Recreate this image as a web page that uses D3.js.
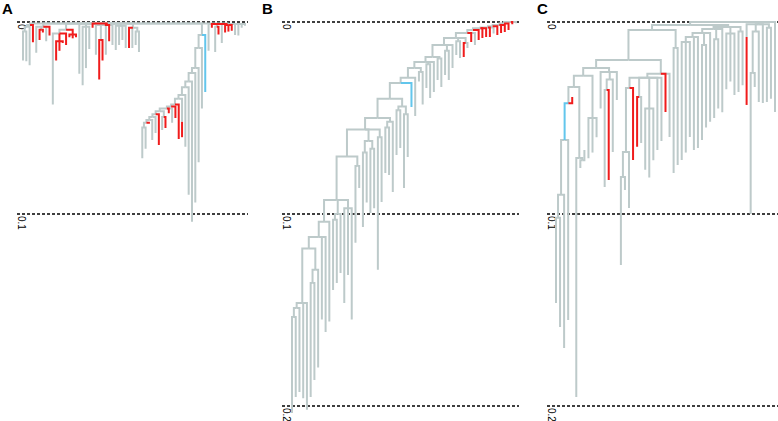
<!DOCTYPE html>
<html><head><meta charset="utf-8">
<script src="https://cdn.jsdelivr.net/npm/d3@7"></script>
<style>body{margin:0;background:#fff}svg{display:block}</style>
</head><body>
<svg id="chart" width="778" height="421"></svg>
<script>
// ---------- DATA ----------
// Trees: Newick-like, each node "(children)tag:depth" with depth = distance from root in units of 0.001;
// tag r = red branch, b = blue branch, none = grey branch.
const panelLetters = ["A", "B", "C"];
const tickValues = [[0, 0.1], [0, 0.1, 0.2], [0, 0.1, 0.2]];
const tickLabels = [["0", "0.1"], ["0", "0.1", "0.2"], ["0", "0.1", "0.2"]];

const treeA = `(
 (((:20,:20.5):5,:22.5):2.5,r:10.5):1.5,
 (:16,(r:9.4,r:5.5):4,:10,r:7):2.5,
 ((:43,(r:20,r:15,r:11)r:10,r:12):6,(r:8,r:8.5,r:8)r:6.5):4,
 :27,
 (:33,:24,:14):2.5,
 r:3,
 (:17,(r:30,r:20):9.4,:17,r:10,:12):1.5,
 (:14.6,:12,:9.4,:13.5):2,
 (r:13.5,:13.5,(:12,:15.6):5):3,
 (((((((((((((((((:71,:66):55,r:53):52.5
   ,:61.5):51,:57.8):49.5,r:64):48,(:56.3,r:55.2):49.5):46.5
   ,r:47.5,:52.5):45,r:50):44,r:61):43,(r:60):52):40
   ,:65):38,:90):34,:104):31,:94):26.5,:73):24,:45):13.5,b:36.5):6.8,
 (:15,r:3,(:15.6,r:6.5):2.5,:11,(r:5.5,r:5,r:4.5):1.5,:6.8,:7,:3,:2):1
):0.8`;

const treeB = `((((((((((((((((((((((((((:203.6,:195.3):153.6
 ,:192.7):149
 ,:196,:202):146.4
 ,((:195.3,:186.5):136,:180):129):118
 ,:155,:161.5):112
 ,:156):104
 ,((:139.6,:136):103,:130.7):100,(:146.4,:131.8,:155):97):92.7
 ,(:115,:86.5):75):70
 ,((:106.8,:94):68,(:99.5,:97):66):62,(:129,:93.8):60):56
 ,((:78.6,:79.7):55,:88.5):52):50
 ,((:69.3,:65.6):46,(:86.5,:70.3):48):44):40
 ,b:44.3):31.8
 ,:49):29
 ,(:31,:43):26):24
 ,(:34.4,:39.6):22,:36.5):20.8
 ,(:30.2,:33.9):19):18.2
 ,(:27.6,:30.2):15,:24):12
 ,(:17.2,:18.8):10,(r:18.2,:13.5):11):8.3
 ,r:10.4,:12):5.7
 ,r:9.4):4.2
 ,r:8.3,r:7.8):3.2
 ,r:7.8,:6):2.8
 ,r:6.8):2.2
 ,r:5.7,r:5.2):1.5
 ,r:4.2):0.8
 ,r:1.2,:0.6):0`;

const treeC = `(
 (
  (
   (
    (
     ((((((:146.4,:158.9):102,:169.8):90,:155.2)b:61.5,r:39.1):42.3,(:195.3,(:76,:66.7):72):70.8):33.9,(:71,:68,:60):50):28,
     (:45,((:86,r:82.3):35.4,:67.7):30,:40.6):26
    ):24,
    (((((:126.6,:87.5):80.7,:96.9):67.7,r:71.9):34.4,(r:65,:63):39,(:77,:81,:72):45,:66.7,:62):29,r:46.9,:59.9):27
   ):19.8,
   (:78.6,:74.5):13.5
  ):4.2,
  (((((:71.9,:68,:59.9):10.4,:66.7,:65.6):7.8,(:61.5,:55):12,:52):5.7,(:50,:45):9,:47):3.6,(:35,:31,:38):6,(:36.5,:33):5):2.6
 ):1.5,
 ((r:43.2):7.8,((:100,:33.9):26.6,:41.7):5,:42.2,(:41.7,:40):3):1.2,
 :46.9
):0`;

const trees = [treeA, treeB, treeC];

// ---------- LAYOUT ----------
const colors = { g: "#bdcaca", r: "#f01c1c", b: "#62c6ec" };
const plotX = [[17, 248], [282, 519], [547, 778]];
const leafX = [[23, 245], [292, 516], [556, 775]];
const letterX = [2, 262, 537];

function parseTree(str) {
  const s = str.replace(/\s+/g, "");
  let i = 0;
  function node() {
    const n = {};
    if (s[i] === "(") {
      i++;
      n.children = [node()];
      while (s[i] === ",") { i++; n.children.push(node()); }
      if (s[i] !== ")") throw new Error("expected ) at " + i + " got " + s[i]);
      i++;
    }
    let tag = "";
    while (i < s.length && /[a-z]/.test(s[i])) tag += s[i++];
    if (s[i] !== ":") throw new Error("expected : at " + i + " got " + s[i]);
    i++;
    let num = "";
    while (i < s.length && /[0-9.\-]/.test(s[i])) num += s[i++];
    n.depth = +num / 1000;
    n.tag = tag || "g";
    return n;
  }
  const r = node();
  if (i !== s.length) throw new Error("trailing at " + i);
  return r;
}

const svg = d3.select("#chart");
const y = d3.scaleLinear().domain([0, 0.2]).range([22, 406]);

trees.forEach((str, p) => {
  const g = svg.append("g");
  g.selectAll("line.ref").data(tickValues[p]).join("line")
    .attr("class", "ref")
    .attr("x1", plotX[p][0]).attr("x2", plotX[p][1])
    .attr("y1", d => y(d)).attr("y2", d => y(d))
    .attr("stroke", "#000").attr("stroke-width", 1.4)
    .attr("stroke-dasharray", "3,2");
  g.selectAll("text.tick").data(tickValues[p]).join("text")
    .attr("class", "tick")
    .attr("transform", d => `translate(${plotX[p][0] + 1},${y(d) + 2}) rotate(90)`)
    .attr("font-family", "Liberation Sans, Arial, sans-serif")
    .attr("font-size", 10)
    .attr("fill", "#000")
    .text((d, k) => tickLabels[p][k]);

  const root = d3.hierarchy(parseTree(str));
  const leaves = root.leaves();
  const xs = d3.scaleLinear().domain([0, leaves.length - 1]).range(leafX[p]);
  leaves.forEach((l, k) => { l.x = xs(k); });
  root.eachAfter(n => { if (n.children) n.x = d3.mean(n.children, c => c.x); });

  const links = root.links();
  const order = { g: 0, b: 1, r: 2 };
  links.sort((a, b) => order[a.target.data.tag] - order[b.target.data.tag]);
  g.selectAll("path.edge").data(links).join("path")
    .attr("class", "edge")
    .attr("d", d => `M${d.source.x},${y(d.source.data.depth)}H${d.target.x}V${y(d.target.data.depth)}`)
    .attr("fill", "none")
    .attr("stroke", d => colors[d.target.data.tag])
    .attr("stroke-width", 2)
    .attr("stroke-linejoin", "miter");

  svg.append("text")
    .attr("x", letterX[p]).attr("y", 14)
    .attr("font-family", "Liberation Sans, Arial, sans-serif")
    .attr("font-weight", "bold").attr("font-size", 15)
    .text(panelLetters[p]);
});
</script>
</body></html>
